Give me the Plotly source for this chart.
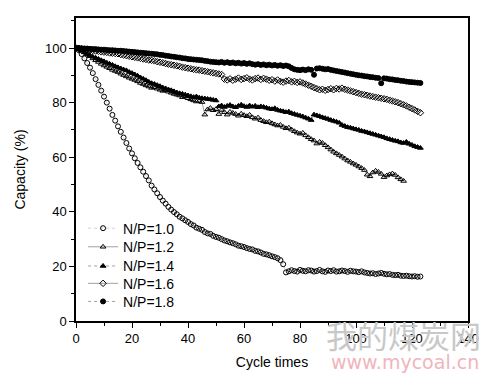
import plotly.graph_objects as go

cycles = list(range(0, 124))

np10 = [100, 99.2, 97.8, 96.2, 94.5, 92.8, 90.8, 88.6, 86.5, 84.4,
        82.2, 80.0, 77.8, 75.5, 73.4, 71.3, 69.3, 67.2, 65.2, 63.2,
        61.4, 59.6, 57.9, 56.3, 54.7, 53.1, 51.5, 49.6, 48.2, 46.8,
        45.4, 44.1, 43.0, 41.8, 40.8, 39.9, 39.1, 38.2, 37.6, 36.9,
        36.3, 35.5, 35.0, 34.2, 33.8, 33.4, 32.6, 32.1, 31.9, 31.2,
        30.8, 30.5, 30.0, 29.5, 29.2, 28.8, 28.5, 28.1, 27.6, 27.4,
        27.1, 26.7, 26.4, 26.2, 25.7, 25.5, 25.1, 24.6, 24.4, 24.1,
        23.7, 23.4, 23.0, 22.3, 20.8, 17.8, 18.2, 18.6, 18.3, 18.1,
        18.7, 18.4, 18.2, 18.6, 18.5, 18.1, 18.3, 18.7, 18.2, 18.0,
        18.5, 18.3, 18.6, 18.1, 18.2, 18.5, 18.3, 18.0, 18.4, 18.2,
        18.1, 17.9, 18.2, 17.8, 17.6, 17.4, 17.5, 17.2, 17.4, 17.6,
        17.3, 17.1, 17.2, 16.9, 16.8, 16.9, 16.6, 16.5, 16.6, 16.4,
        16.3, 16.4, 16.2, 16.3]

np12 = [100, 99.6, 99.1, 98.5, 97.8, 97.0, 96.2, 95.5, 94.9, 94.2,
        93.6, 93.1, 92.6, 92.0, 91.6, 91.2, 90.6, 90.1, 89.6, 89.1,
        88.7, 88.3, 87.8, 87.2, 86.8, 86.3, 85.9, 85.4, 85.6, 85.1,
        84.7, 84.3, 84.5, 84.0, 83.6, 83.2, 82.9, 82.6, 82.0, 82.3,
        81.6, 81.2, 80.8, 80.4, 80.6, 80.2, 75.6, 77.5, 78.0, 77.2,
        77.6, 75.8, 77.3, 76.5, 75.6, 76.6, 76.2, 75.8, 75.2, 75.9,
        75.4, 75.0, 75.5, 74.6, 74.1, 74.5, 73.6, 73.2, 72.8, 73.0,
        72.4, 72.0, 71.6, 71.8, 71.1, 70.6, 70.8, 70.1, 69.5, 69.0,
        68.6, 68.9, 68.0, 67.3, 66.6, 66.1, 65.0, 65.6, 65.2, 64.4,
        63.6, 62.8, 62.0, 61.4, 60.8, 60.2, 59.5, 58.8, 58.3, 57.7,
        57.2, 56.6, 56.0, 55.3, 53.6, 53.0, 54.4, 55.0, 54.6, 53.9,
        52.7, 53.3, 53.7, 54.0, 53.5, 52.6, 51.9, 51.3]

np14 = [100, 99.5, 99.0, 98.4, 97.8, 97.3, 96.8, 96.4, 96.0, 95.5,
        95.1, 94.6, 94.2, 93.8, 93.3, 92.9, 92.5, 92.1, 91.8, 91.2,
        90.8, 90.3, 89.8, 89.2, 88.7, 88.2, 87.6, 87.1, 86.8, 86.4,
        86.0, 85.5, 85.2, 84.8, 84.5, 84.1, 83.7, 83.4, 83.2, 82.9,
        82.6, 82.3, 82.0, 82.2, 81.8, 81.6, 81.5, 81.3, 81.2, 81.0,
        80.8, 78.6, 78.9, 78.4, 78.8, 79.1, 78.6, 78.3, 78.8, 79.2,
        78.7, 78.4, 78.9, 78.5, 78.8, 78.3, 78.6, 78.4, 78.1, 77.8,
        77.6, 77.9, 77.3, 77.0, 76.8, 76.5, 76.7, 76.1, 75.8, 75.5,
        75.2, 74.9, 74.5, 74.1, 73.6, 75.6, 75.3, 75.0, 74.6, 74.3,
        74.0, 73.6, 73.3, 73.0, 72.6, 71.8, 71.4, 71.0, 70.8, 70.5,
        70.2, 70.0, 69.6, 69.4, 69.1, 68.8, 68.5, 68.2, 67.9, 67.6,
        67.3, 66.9, 66.6, 66.3, 66.0, 65.8, 65.4, 65.2, 65.6, 64.9,
        64.5, 64.0, 63.7, 63.4]

np16 = [100, 99.9, 99.7, 99.6, 99.4, 99.3, 99.1, 98.9, 98.8, 98.6,
        98.5, 98.4, 98.2, 98.1, 98.0, 97.9, 97.6, 97.4, 97.2, 97.0,
        96.8, 96.6, 96.4, 96.2, 96.0, 95.8, 95.6, 95.5, 95.3, 95.0,
        94.8, 94.6, 94.3, 94.1, 93.9, 93.7, 93.5, 93.3, 93.0, 92.8,
        92.6, 92.4, 92.2, 92.0, 91.9, 91.7, 91.5, 91.3, 91.1, 90.9,
        90.7, 90.5, 90.3, 88.6, 88.3, 88.7, 88.2, 88.6, 89.0, 88.5,
        88.8, 89.1, 88.6, 88.3, 88.8, 89.0, 88.5, 88.9, 88.6, 88.2,
        88.4, 87.9, 88.3, 87.8, 87.5, 87.9, 88.1, 87.6, 87.8, 87.4,
        87.6, 87.2, 86.8, 86.4, 86.0, 85.5, 85.1, 84.7, 84.9, 84.5,
        84.8, 85.1, 84.7, 85.2, 85.0, 85.3, 84.9, 84.6, 84.3, 84.0,
        83.7, 83.4, 83.1, 82.9, 82.7, 82.4, 82.2, 82.0, 81.8, 81.6,
        81.4, 81.2, 80.9, 80.6, 80.3, 80.0, 79.6, 79.2, 78.8, 78.3,
        77.8, 77.3, 76.8, 76.3]

np18 = [100, 100, 99.9, 99.8, 99.8, 99.7, 99.6, 99.6, 99.5, 99.4,
        99.4, 99.3, 99.2, 99.2, 99.1, 99.0, 99.0, 98.9, 98.8, 98.7,
        98.6, 98.5, 98.4, 98.3, 98.2, 98.1, 98.0, 97.9, 97.8, 97.7,
        97.5, 97.4, 97.2, 97.1, 96.9, 96.8, 96.6, 96.5, 96.3, 96.2,
        96.0, 95.9, 95.8, 95.7, 95.6, 95.5, 95.3, 95.2, 95.0, 94.9,
        94.8, 94.7, 94.9, 94.6, 94.8, 94.5, 94.7, 94.4, 94.6, 94.3,
        94.5, 94.2, 94.4, 94.1, 93.9, 94.1, 93.8, 94.0, 93.7, 93.9,
        93.6, 93.8, 93.5, 93.7, 93.4, 93.6, 93.3, 92.7, 92.2, 92.0,
        91.9, 92.1, 91.9, 92.2, 92.0, 90.2, 92.5, 92.6, 92.4, 92.2,
        92.3, 92.0, 91.8, 91.6, 91.4, 91.2, 91.0, 90.8, 90.6, 90.4,
        90.2, 90.0, 89.9, 89.7, 89.6, 89.4, 89.3, 89.1, 89.0, 87.1,
        88.9, 88.8, 88.6, 88.5, 88.3, 88.2, 88.0, 87.9, 87.7, 87.6,
        87.5, 87.4, 87.3, 87.2]

names = ["N/P=1.0", "N/P=1.2", "N/P=1.4", "N/P=1.6", "N/P=1.8"]
series = [np10, np12, np14, np16, np18]
symbols = ["circle-open", "triangle-up-open", "triangle-up", "diamond-open", "circle"]
dashes = ["dot", "solid", "dot", "solid", "dot"]
line_colors = ["#bbbbbb", "#777777", "#777777", "#777777", "#777777"]
legend_ids = ["legend", "legend2", "legend3", "legend4", "legend5"]
legend_y = [0.305, 0.2436, 0.1803, 0.123, 0.0633]

fig = go.Figure()
for nm, ys, sym, dsh, lc, lid in zip(names, series, symbols, dashes, line_colors, legend_ids):
    fig.add_trace(go.Scatter(
        x=cycles[:len(ys)], y=ys, name=nm, mode="lines+markers",
        line=dict(color=lc, width=0.7, dash=dsh),
        marker=dict(symbol=sym, size=5, color="black",
                    line=dict(color="black", width=1)),
        legend=lid,
    ))

legend_common = dict(x=0.018, xanchor="left", yanchor="middle",
                     bgcolor="rgba(0,0,0,0)", font=dict(size=14),
                     itemwidth=30)

fig.update_layout(
    width=492, height=372,
    margin=dict(l=68, r=32, t=8, b=59),
    paper_bgcolor="white", plot_bgcolor="white",
    font=dict(family="Liberation Sans, Arial, sans-serif", color="black", size=13),
    showlegend=True,
    legend=dict(y=legend_y[0], **legend_common),
    legend2=dict(y=legend_y[1], **legend_common),
    legend3=dict(y=legend_y[2], **legend_common),
    legend4=dict(y=legend_y[3], **legend_common),
    legend5=dict(y=legend_y[4], **legend_common),
    annotations=[
        dict(text="我的煤炭网", xref="paper", yref="paper", x=0.835, y=-0.046,
             xanchor="center", yanchor="middle", showarrow=False,
             font=dict(family="Noto Sans CJK SC", size=31, color="#c8c8c8")),
        dict(text="www.mycoal.cn", xref="paper", yref="paper", x=0.84, y=-0.134,
             xanchor="center", yanchor="middle", showarrow=False,
             font=dict(family="DejaVu Sans, sans-serif", size=19, color="#f0b4bc")),
    ],
)

fig.update_xaxes(
    range=[0, 140], tick0=0, dtick=20, showgrid=False, zeroline=False,
    showline=True, mirror=True, linecolor="black", linewidth=1.5,
    ticks="outside", ticklen=5, tickwidth=1.2, tickcolor="black",
    minor=dict(dtick=10, ticks="outside", ticklen=3, tickcolor="black"),
    title=dict(text="Cycle times", font=dict(size=14), standoff=12),
    tickfont=dict(size=13),
)
fig.update_yaxes(
    range=[0, 111], tick0=0, dtick=20, showgrid=False, zeroline=False,
    showline=True, mirror=True, linecolor="black", linewidth=1.5,
    ticks="outside", ticklen=5, tickwidth=1.2, tickcolor="black",
    minor=dict(dtick=10, ticks="outside", ticklen=3, tickcolor="black"),
    title=dict(text="Capacity (%)", font=dict(size=14), standoff=16),
    tickfont=dict(size=13),
)

fig.write_html("out.html")
